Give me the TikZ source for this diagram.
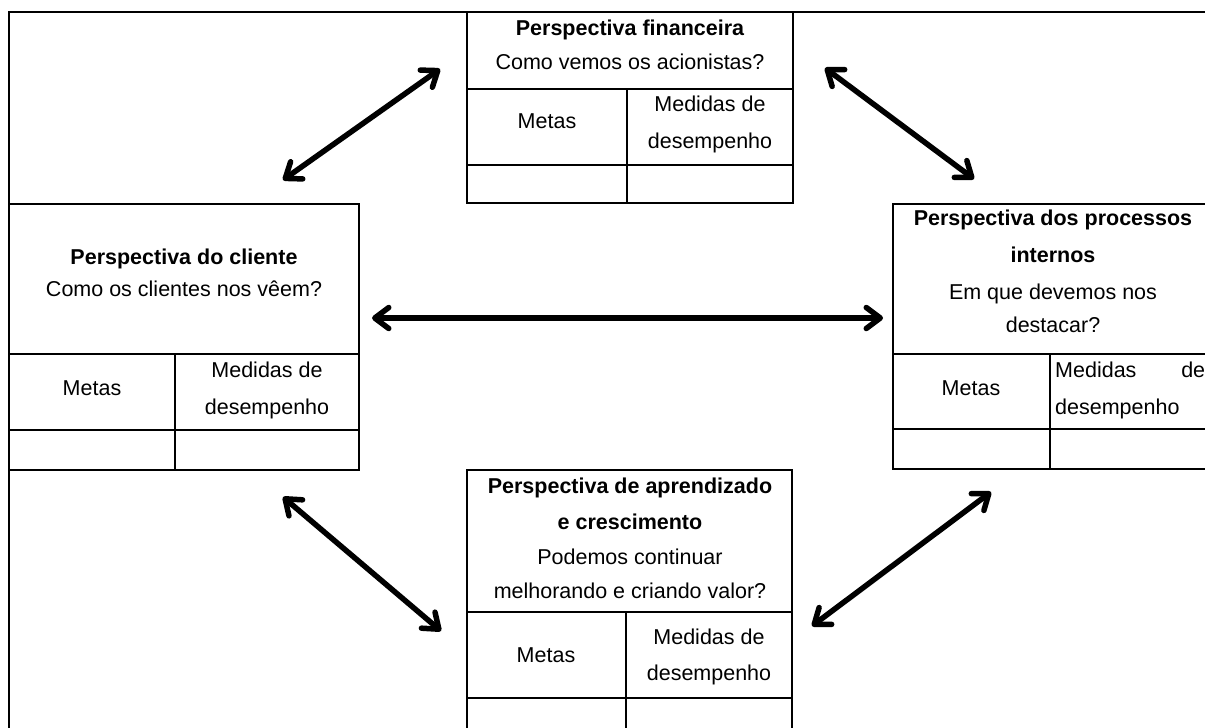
\documentclass[tikz,border=0pt]{standalone}
\usepackage{fontspec}
\setmainfont{Liberation Sans}
\usetikzlibrary{arrows.meta}
\tikzset{
  frame/.style={draw=black, line width=2pt, inner sep=0pt, outer sep=0pt},
  txt/.style={anchor=base, inner sep=0pt, font=\fontsize{21.5}{26}\selectfont},
  ttl/.style={txt, font=\fontsize{21.5}{26}\selectfont\bfseries},
  dbl/.style={line width=5.5pt, {Straight Barb[length=14pt,width=21pt,line cap=round,line join=round]}-{Straight Barb[length=14pt,width=21pt,line cap=round,line join=round]}}
}
\begin{document}
\begin{tikzpicture}[x=1pt,y=-1pt]
\clip (0,0) rectangle (1205,728);
\fill[white] (0,0) rectangle (1205,728);
% outer frame
\draw[line width=2.2pt] (9,760) -- (9,12) -- (1240,12);
% ---- financeira
\draw[line width=2.2pt] (467,12) rectangle (793,203);
\draw[line width=2.2pt] (467,89) -- (793,89) (467,165) -- (793,165) (627,89) -- (627,203);
\node[ttl] (finT) at (630,35) {Perspectiva financeira};
\node[txt] (finQ) at (630,69) {Como vemos os acionistas?};
\node[txt] (finM) at (547,128) {Metas};
\node[txt] (finD1) at (710,111) {Medidas de};
\node[txt] (finD2) at (710,148) {desempenho};
% ---- cliente
\draw[line width=2.2pt] (9,204) rectangle (359,470);
\draw[line width=2.2pt] (9,354) -- (359,354) (9,430) -- (359,430) (175,354) -- (175,470);
\node[ttl] (cliT) at (184,264) {Perspectiva do cliente};
\node[txt] (cliQ) at (184,296) {Como os clientes nos vêem?};
\node[txt] (cliM) at (92,395) {Metas};
\node[txt] (cliD1) at (267,377) {Medidas de};
\node[txt] (cliD2) at (267,414) {desempenho};
% ---- processos
\draw[line width=2.2pt] (893,204) rectangle (1219,469);
\draw[line width=2.2pt] (893,354) -- (1219,354) (893,429) -- (1219,429) (1050,354) -- (1050,469);
\node[ttl] (proT1) at (1053,225) {Perspectiva dos processos};
\node[ttl] (proT2) at (1053,262) {internos};
\node[txt] (proQ1) at (1053,299) {Em que devemos nos};
\node[txt] (proQ2) at (1053,332) {destacar?};
\node[txt] (proM) at (971,395) {Metas};
\node[txt, anchor=base west] (proD1) at (1055,377) {\makebox[150pt][s]{Medidas de}};
\node[txt, anchor=base west] (proD2) at (1055,414) {desempenho};
% ---- aprendizado
\draw[line width=2.2pt] (467,470) rectangle (792,760);
\draw[line width=2.2pt] (467,612) -- (792,612) (467,698) -- (792,698) (626,612) -- (626,760);
\node[ttl] (aprT1) at (630,493) {Perspectiva de aprendizado};
\node[ttl] (aprT2) at (630,529) {e crescimento};
\node[txt] (aprQ1) at (630,564) {Podemos continuar};
\node[txt] (aprQ2) at (630,598) {melhorando e criando valor?};
\node[txt] (aprM) at (546,662) {Metas};
\node[txt] (aprD1) at (709,644) {Medidas de};
\node[txt] (aprD2) at (709,680) {desempenho};
% ---- arrow ends
\coordinate (a1s) at (283,180); \coordinate (a1e) at (440,69);
\coordinate (a2s) at (825,68);  \coordinate (a2e) at (974,179);
\coordinate (a3s) at (372,318); \coordinate (a3e) at (883,318);
\coordinate (a4s) at (283,497); \coordinate (a4e) at (441,631);
\coordinate (a5s) at (812,626); \coordinate (a5e) at (991,492);
\draw[dbl] (a1s) -- (a1e);
\draw[dbl] (a2s) -- (a2e);
\draw[dbl] (a3s) -- (a3e);
\draw[dbl] (a4s) -- (a4e);
\draw[dbl] (a5s) -- (a5e);
\end{tikzpicture}
\end{document}
